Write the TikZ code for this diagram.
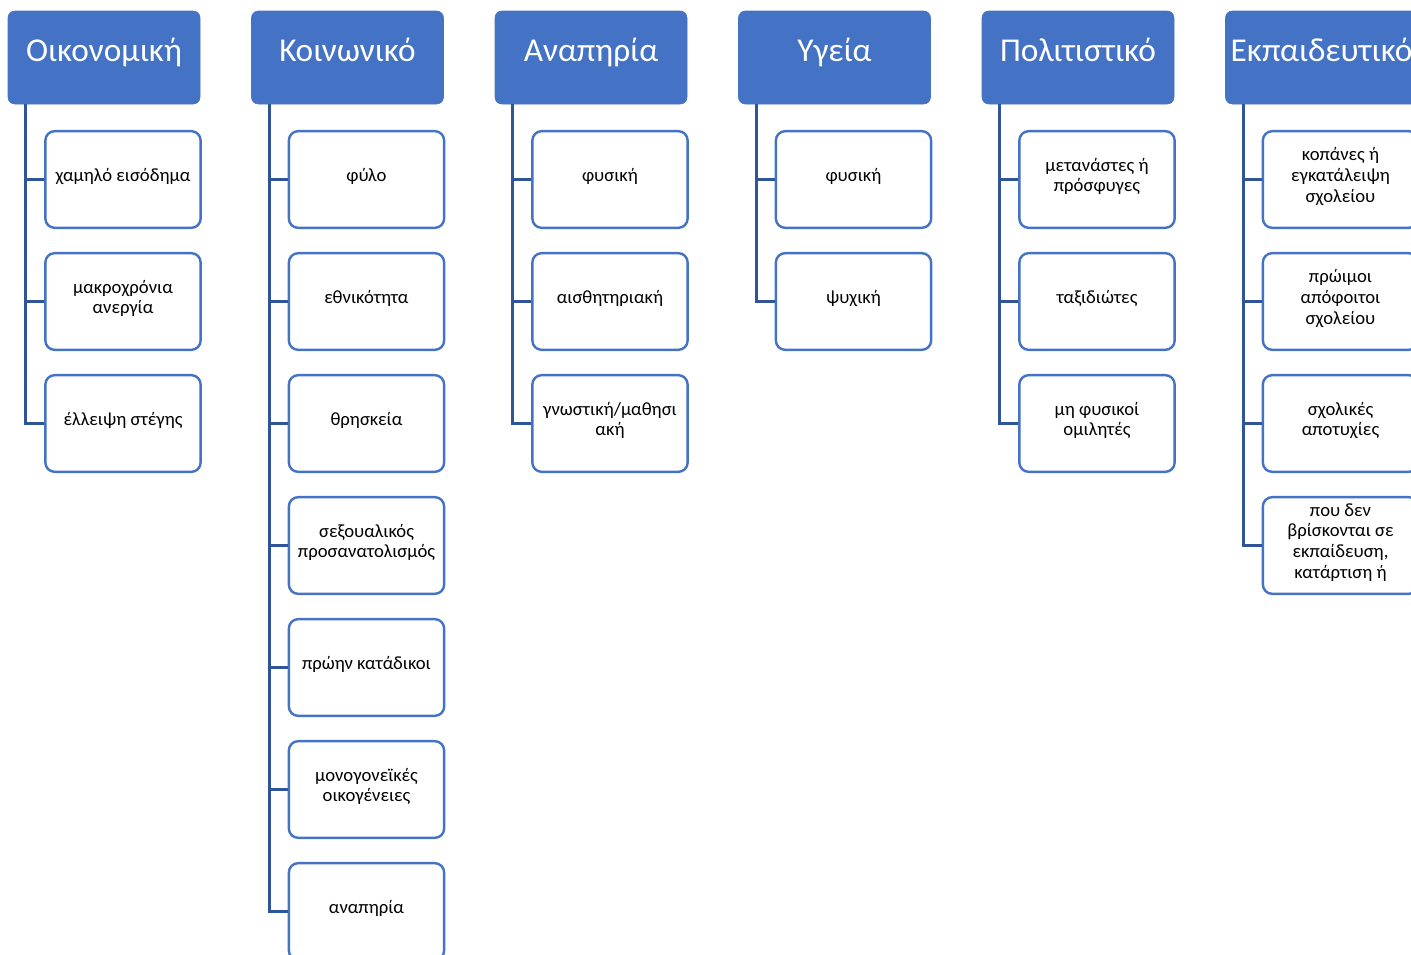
\documentclass[tikz,border=0pt]{standalone}
\usepackage{fontspec}
\setmainfont{Carlito}
\usetikzlibrary{positioning}
\definecolor{hdrblue}{HTML}{4472C4}
\definecolor{lineblue}{HTML}{2F5597}

\tikzset{
  header/.style={rectangle,rounded corners=5pt,fill=hdrblue,draw=hdrblue,
    text=white,minimum width=144pt,minimum height=69.75pt,
    text height=20pt,text depth=14pt,
    font=\fontsize{25}{29}\selectfont,inner sep=0pt},
  leaf/.style={rectangle,rounded corners=7pt,draw=hdrblue,line width=1.8pt,
    fill=white,minimum width=116.5pt,minimum height=72.5pt,align=center,
    font=\fontsize{14}{15.5}\selectfont,inner sep=1pt,
    execute at end node={\rule[-7pt]{0pt}{0pt}}},
  branch/.style={draw=lineblue,line width=2pt}
}

\begin{document}
\begin{tikzpicture}[x=0.75pt,y=-0.75pt]
  \useasboundingbox (0,0) rectangle (1411,954);
  \clip (0,0) rectangle (1411,954);

  % category headers
  \node[header] (eco) at (104,57.5)    {Οικονομική};
  \node[header] (soc) at (347.5,57.5)  {Κοινωνικό};
  \node[header] (dis) at (591,57.5)    {Αναπηρία};
  \node[header] (hea) at (834.5,57.5)  {Υγεία};
  \node[header] (cul) at (1078,57.5)   {Πολιτιστικό};
  \node[header] (edu) at (1321.5,57.5) {Εκπαιδευτικό};

  % Οικονομική
  \node[leaf] (eco1) at (123,179.5) {χαμηλό εισόδημα};
  \node[leaf] (eco2) at (123,301.5) {μακροχρόνια\\ανεργία};
  \node[leaf] (eco3) at (123,423.5) {έλλειψη στέγης};

  % Κοινωνικό
  \node[leaf] (soc1) at (366.5,179.5) {φύλο};
  \node[leaf] (soc2) at (366.5,301.5) {εθνικότητα};
  \node[leaf] (soc3) at (366.5,423.5) {θρησκεία};
  \node[leaf] (soc4) at (366.5,545.5) {σεξουαλικός\\προσανατολισμός};
  \node[leaf] (soc5) at (366.5,667.5) {πρώην κατάδικοι};
  \node[leaf] (soc6) at (366.5,789.5) {μονογονεϊκές\\οικογένειες};
  \node[leaf] (soc7) at (366.5,911.5) {αναπηρία};

  % Αναπηρία
  \node[leaf] (dis1) at (610,179.5) {φυσική};
  \node[leaf] (dis2) at (610,301.5) {αισθητηριακή};
  \node[leaf] (dis3) at (610,423.5) {γνωστική/μαθησι\\ακή};

  % Υγεία
  \node[leaf] (hea1) at (853.5,179.5) {φυσική};
  \node[leaf] (hea2) at (853.5,301.5) {ψυχική};

  % Πολιτιστικό
  \node[leaf] (cul1) at (1097,179.5) {μετανάστες ή\\πρόσφυγες};
  \node[leaf] (cul2) at (1097,301.5) {ταξιδιώτες};
  \node[leaf] (cul3) at (1097,423.5) {μη φυσικοί\\ομιλητές};

  % Εκπαιδευτικό
  \node[leaf] (edu1) at (1340.5,179.5) {κοπάνες ή\\εγκατάλειψη\\σχολείου};
  \node[leaf] (edu2) at (1340.5,301.5) {πρώιμοι\\απόφοιτοι\\σχολείου};
  \node[leaf] (edu3) at (1340.5,423.5) {σχολικές\\αποτυχίες};
  \node[leaf] (edu4) at (1340.5,545.5) {που δεν\\βρίσκονται σε\\εκπαίδευση,\\κατάρτιση ή};

  % connectors
  \foreach \p/\n in {eco/3,soc/7,dis/3,hea/2,cul/3,edu/4}{
    \foreach \k in {1,...,\n}
      \draw[branch] ([xshift=13.5pt]\p.south west) |- (\p\k.west);
  }
\end{tikzpicture}
\end{document}
